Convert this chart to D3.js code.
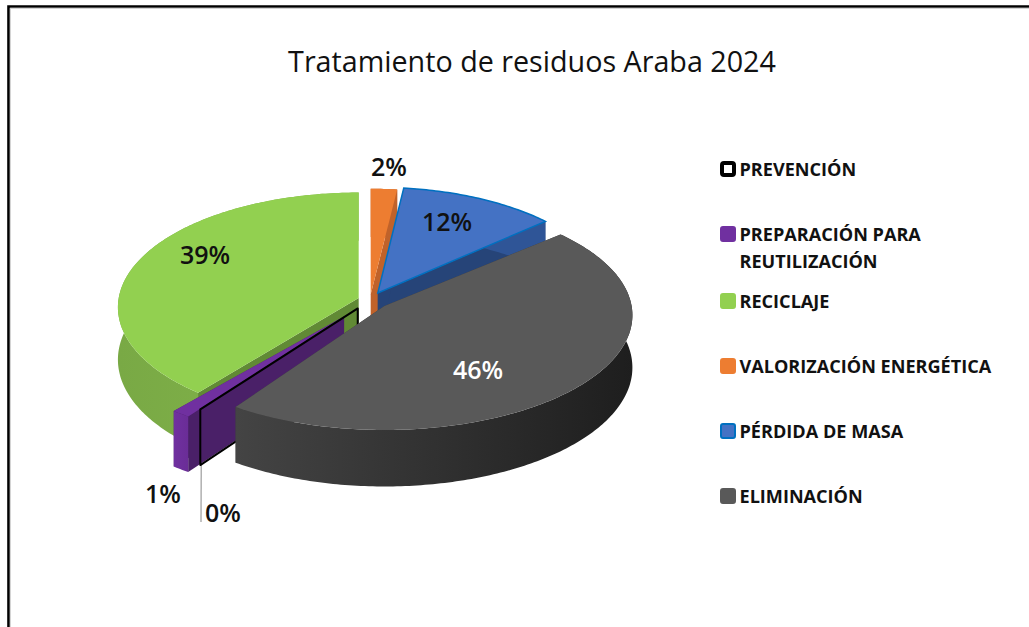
<!DOCTYPE html>
<html><head><meta charset="utf-8">
<script src="https://cdn.jsdelivr.net/npm/d3@7"></script>
<style>html,body{margin:0;background:#fff;overflow:hidden}svg{display:block}
text{font-family:"Open Sans",sans-serif}</style></head>
<body><svg id="c" width="1029" height="627"></svg>
<script>
const titleText = "Tratamiento de residuos Araba 2024";
const categories = ["PREVENCIÓN","PREPARACIÓN PARA REUTILIZACIÓN","RECICLAJE","VALORIZACIÓN ENERGÉTICA","PÉRDIDA DE MASA","ELIMINACIÓN"];
const values = [0.2,1.1,39.2,1.9,11.6,46.0];
const pctLabels = ["0%","1%","39%","2%","12%","46%"];

const topColors  = ["none","#7030a0","#92d050","#ed7d31","#4472c4","#595959"];
const edgeColors = ["#000","#7030a0","#92d050","#ed7d31","#0070c0","#595959"];
const sideColors = ["none","#4a2068","#618a35","#c0622a","#264478","#3b3b3b"];
const wallFrom   = ["none","#7030a0","#79a945","#c0622a","#2f5597","#444444"];
const wallTo     = ["none","#6a2d97","#84b64b","#c0622a","#2f5597","#1e1e1e"];
const explode    = [0.09,0.18,0.05,0.05,0.07,0.08];
const stretchX   = [1.09,1.06,1,1,0.98,1.03];
const drawOrder  = [2,3,4,1,0,5];
const labelPos   = [[223,513],[163,494],[205,255],[389,167],[447,222],[478,370]];
const legendY    = [169,234,301,366,431,496];

const svg = d3.select("#c");
const defs = svg.append("defs");
const CX=370, CY=300, RX=240, RY=114, PERSP=0.08, THICK=52;

const arcs = d3.pie().sort(null).value(d=>d)
  .startAngle(2*Math.PI*(1-(values[0]+values[1]+values[2])/d3.sum(values)))
  .endAngle(2*Math.PI*(1-(values[0]+values[1]+values[2])/d3.sum(values))+2*Math.PI)(values);

function apex(i){
  const m=(arcs[i].startAngle+arcs[i].endAngle)/2, e=explode[i];
  return [CX+e*Math.sin(m)*RX, CY-e*Math.cos(m)*RY];
}
function rim(i,t,z){
  const a=apex(i), s=-Math.cos(t), f=1/(1-PERSP*s);
  return [a[0]+RX*stretchX[i]*Math.sin(t)*f, a[1]+RY*s*f+z*f];
}
const line=d3.line();
const angles=(a,b)=>{const n=Math.max(2,Math.ceil((b-a)/0.015));return d3.range(n+1).map(k=>a+(b-a)*k/n);};

// border
svg.append("path").attr("d",line([[8.5,627],[8.5,6.5],[1029,6.5]])).attr("fill","none").attr("stroke","#000").attr("stroke-width",2.6);
svg.append("path").attr("d",line([[10.3,627],[10.3,8.3],[1029,8.3]])).attr("fill","none").attr("stroke","#bbb").attr("stroke-width",0.8);

// title
svg.append("text").attr("x",532).attr("y",72).attr("text-anchor","middle").attr("font-size",28.7).attr("fill","#111").text(titleText);

// leader line for the smallest slice
{const p=rim(0,arcs[0].startAngle,THICK);
 svg.append("path").attr("d",line([[p[0]+1,p[1]],[labelPos[0][0]-22,labelPos[0][1]+9]])).attr("fill","none").attr("stroke","#b0b0b0").attr("stroke-width",1.5);}

drawOrder.forEach(i=>{
  const d=arcs[i], g=svg.append("g"), a=apex(i);
  const walls = i===0 ? [d.startAngle] : [d.endAngle,d.startAngle];
  const stroke = i===0 ? "#000" : "none", sw = i===0 ? 2 : 0;
  walls.forEach(t=>{
    const o=rim(i,t,0), b=rim(i,t,THICK);
    g.append("path").attr("d",line([a,o,b,[a[0],a[1]+THICK]])+"Z").attr("fill",sideColors[i]).attr("stroke",stroke).attr("stroke-width",sw).attr("stroke-linejoin","round");
  });
  if(i>0){
    const ts=angles(d.startAngle,d.endAngle);
    const pts=ts.map(t=>rim(i,t,0)).concat(ts.slice().reverse().map(t=>rim(i,t,THICK)));
    const x=d3.extent(pts,p=>p[0]);
    const gid="w"+i;
    const lg=defs.append("linearGradient").attr("id",gid).attr("gradientUnits","userSpaceOnUse").attr("x1",x[0]).attr("x2",x[1]).attr("y1",0).attr("y2",0);
    lg.append("stop").attr("offset",0).attr("stop-color",wallFrom[i]);
    lg.append("stop").attr("offset",1).attr("stop-color",wallTo[i]);
    g.append("path").attr("d",line(pts)+"Z").attr("fill",`url(#${gid})`);
    const top=[a].concat(ts.map(t=>rim(i,t,0)));
    g.append("path").attr("d",line(top)+"Z").attr("fill",topColors[i]).attr("stroke",i===4?edgeColors[i]:"none").attr("stroke-width",i===4?1.5:0);
  }
});

// percentage labels
pctLabels.forEach((t,i)=>{
  svg.append("text").attr("x",labelPos[i][0]).attr("y",labelPos[i][1]).attr("dy","0.36em").attr("text-anchor","middle")
    .attr("font-size",25).attr("font-weight",600).attr("fill",i===5?"#fff":"#111").text(t);
});

// legend
const legendLines=[["PREVENCIÓN"],["PREPARACIÓN PARA","REUTILIZACIÓN"],["RECICLAJE"],["VALORIZACIÓN ENERGÉTICA"],["PÉRDIDA DE MASA"],["ELIMINACIÓN"]];
const legendFill=["#fff","#7030a0","#92d050","#ed7d31","#4472c4","#595959"];
const legendStroke=["#000","#7030a0","#92d050","#ed7d31","#0070c0","#595959"];
categories.forEach((c,i)=>{
  const y=legendY[i];
  svg.append("rect").attr("x",i===0?722:721).attr("y",y-(i===0?6:7)).attr("width",i===0?12:14).attr("height",i===0?12:14).attr("rx",2)
    .attr("fill",legendFill[i]).attr("stroke",legendStroke[i]).attr("stroke-width",i===0?4:2);
  legendLines[i].forEach((t,k)=>{
    svg.append("text").attr("x",739.5).attr("y",y+k*27).attr("dy","0.36em").attr("font-size",18.1).attr("font-weight",700).attr("fill","#111").text(t);
  });
});
</script></body></html>
